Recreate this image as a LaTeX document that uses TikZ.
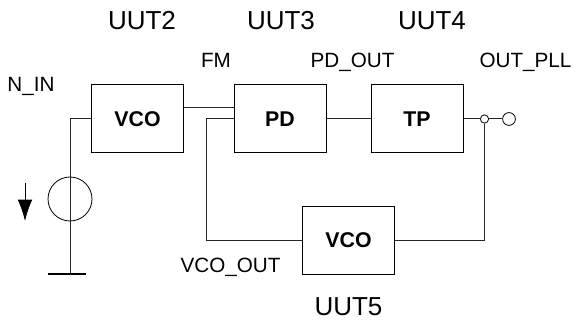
\documentclass[tikz,border=0pt]{standalone}
\usepackage{fontspec}
\usetikzlibrary{arrows.meta}
\setmainfont{Liberation Sans}
\tikzset{
  x=0.75pt,y=-0.75pt,
  wire/.style={draw=black!85,line width=0.75pt},
  blockbox/.style={draw=black,line width=0.75pt,minimum width=69pt,minimum height=51pt,inner sep=0pt,font=\fontsize{16}{18}\selectfont\bfseries},
  biglabel/.style={inner sep=0pt,anchor=base,font=\fontsize{19.5}{22}\selectfont},
  smalllabel/.style={inner sep=0pt,anchor=base,font=\fontsize{15.5}{18}\selectfont},
  junction/.style={circle,draw=black,fill=white,line width=0.6pt,inner sep=0pt,minimum size=6.2pt},
  terminal/.style={circle,draw=black,fill=white,line width=0.6pt,inner sep=0pt,minimum size=9.6pt},
  sourcecirc/.style={circle,draw=black,line width=0.6pt,inner sep=0pt,minimum size=33pt},
}
\begin{document}
\begin{tikzpicture}
\useasboundingbox (0,0) rectangle (573,320);
\node[blockbox] (vcoa) at (137.5,119) {VCO};
\node[blockbox] (pd) at (280,119) {PD};
\node[blockbox] (tp) at (417,119) {TP};
\node[blockbox] (vcob) at (348.5,240) {VCO};
\coordinate (corner) at (70,119);
\coordinate (gnd) at (70,274);
\coordinate (gl) at (48,274);
\coordinate (gr) at (86,274);
\coordinate (fma) at (183.5,108);
\coordinate (fmb) at (234,108);
\coordinate (fbc) at (206,119);
\coordinate (fbd) at (206,240);
\coordinate (jd) at (484.5,240);
\coordinate (at) at (25,183);
\coordinate (ab) at (25,221);
\node[sourcecirc] (src) at (70,199) {};
\node[junction] (j) at (484.5,119) {};
\node[terminal] (out) at (509,119) {};
\draw[wire] (vcoa.west) -- (corner) -- (gnd);
\draw[line width=1.1pt] (gl) -- (gr);
\draw[wire] (fma) -- (fmb);
\draw[wire] (pd.west) -- (fbc) -- (fbd) -- (vcob.west);
\draw[wire] (pd.east) -- (tp.west);
\draw[wire] (tp.east) -- (j);
\draw[wire] (j) -- (out);
\draw[wire] (j) -- (jd) -- (vcob.east);
\draw[line width=0.75pt,-{Latex[length=16pt,width=11pt]}] (at) -- (ab);
\node[biglabel] (u2) at (142,29.5) {UUT2};
\node[biglabel] (u3) at (281,29.5) {UUT3};
\node[biglabel] (u4) at (432,29.5) {UUT4};
\node[biglabel] (u5) at (348.5,315.5) {UUT5};
\node[smalllabel] (fm) at (216,67.5) {FM};
\node[smalllabel] (pdo) at (352.5,67.5) {PD\_OUT};
\node[smalllabel] (op) at (525.5,67.5) {OUT\_PLL};
\node[smalllabel] (nin) at (31,92) {N\_IN};
\node[smalllabel] (vo) at (230.5,272) {VCO\_OUT};
\end{tikzpicture}
\end{document}
